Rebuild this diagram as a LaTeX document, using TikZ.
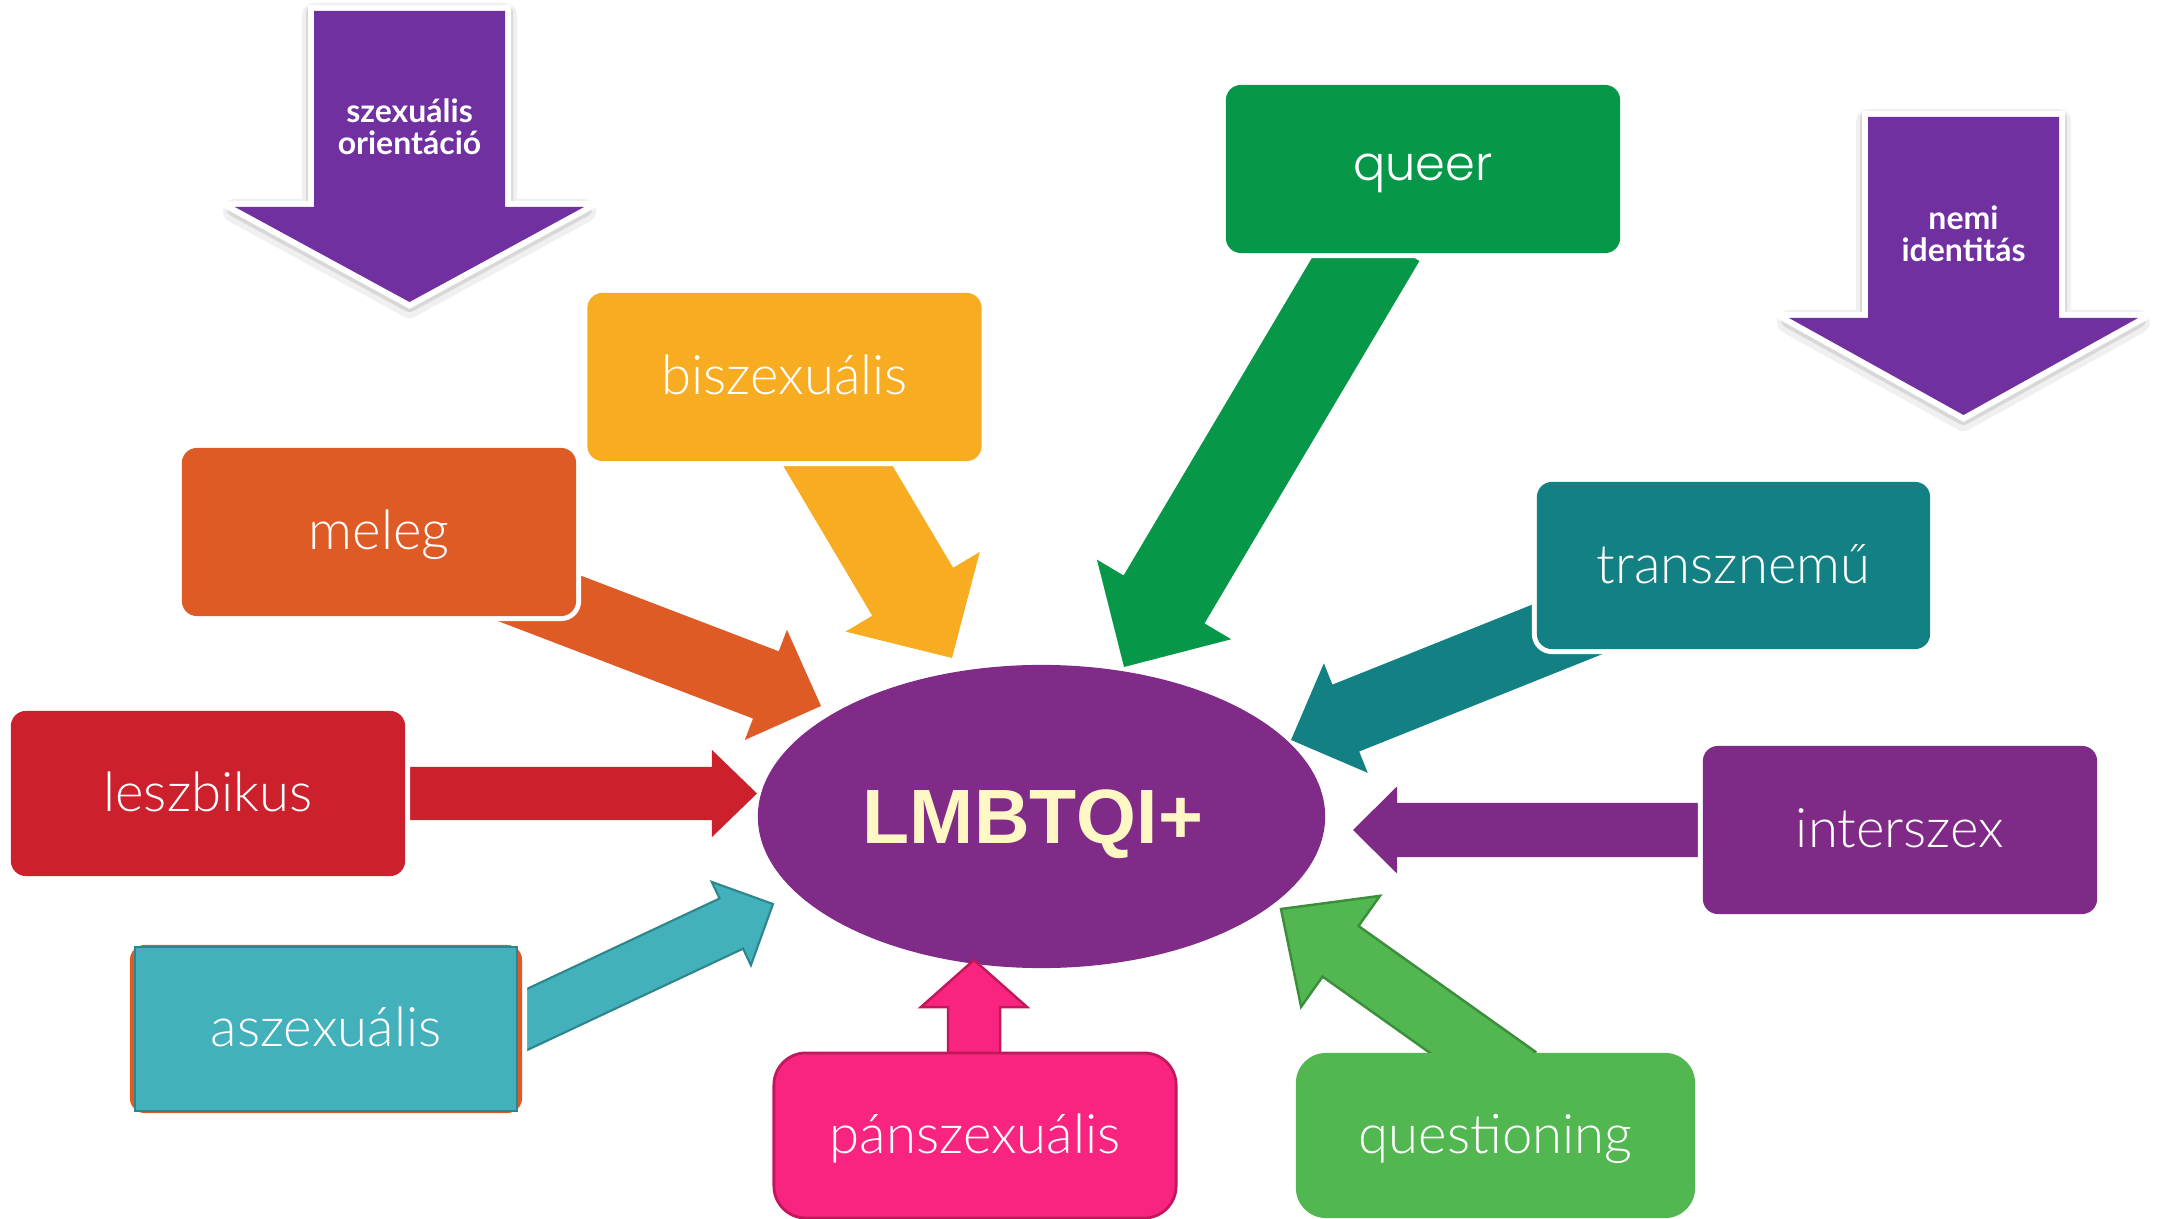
\documentclass[tikz,border=0pt]{standalone}
\usepackage{fontspec}
\usetikzlibrary{calc,shapes.geometric}
\IfFontExistsTF{Lato Light}{\newfontfamily\boxfont{Lato Light}}{\newfontfamily\boxfont{Lato}}
\IfFontExistsTF{Poppins Light}{\newfontfamily\queerfont{Poppins Light}}{\newfontfamily\queerfont{Poppins}}
\newfontfamily\headfont{Lato}
\newfontfamily\corefont{Liberation Sans}
\definecolor{hpurple}{HTML}{7030A0}
\definecolor{ccore}{HTML}{802B87}
\definecolor{ccoretext}{HTML}{FFF8C5}
\definecolor{cyellow}{HTML}{F7AC22}
\definecolor{corange}{HTML}{DE5B26}
\definecolor{cred}{HTML}{CC202C}
\definecolor{cqueer}{HTML}{069749}
\definecolor{cteal}{HTML}{138184}
\definecolor{cinter}{HTML}{7F2A86}
\definecolor{casz}{HTML}{43B1BB}
\definecolor{caszline}{HTML}{2E868C}
\definecolor{cpink}{HTML}{F9247F}
\definecolor{cpinkline}{HTML}{C2185B}
\definecolor{cquest}{HTML}{52B751}
\definecolor{cquestline}{HTML}{3B8F3B}
\newcommand\blockarrow[6]{%
  \coordinate (hb) at ($(#3)!#6!(#2)$);
  \path[#1] ($(#2)!#4!90:(#3)$) -- ($(hb)!#4!90:(#3)$) -- ($(hb)!#5!90:(#3)$) -- (#3)
    -- ($(hb)!#5!-90:(#3)$) -- ($(hb)!#4!-90:(#3)$) -- ($(#2)!#4!-90:(#3)$) -- cycle;
}
\begin{document}
\begin{tikzpicture}[x=0.01cm, y=-0.01cm,
  box/.style={rectangle, rounded corners=0.15cm, inner sep=0pt, text=white,
    font=\boxfont\fontsize{15.5}{18}\selectfont, text height=10pt, text depth=0pt,
    minimum width=3.94cm, minimum height=1.68cm},
  wbox/.style={box, preaction={draw=white, line width=0.1cm}},
  headtxt/.style={text=white, align=center, inner sep=0pt,
    font=\headfont\bfseries\fontsize{9.1}{9.1}\selectfont},
  hshadowA/.style={draw=black, opacity=0.06, line width=0.24cm, line join=round, yshift=-0.04cm},
  hshadowB/.style={draw=black, opacity=0.10, line width=0.16cm, line join=round, yshift=-0.02cm},
  hwhite/.style={draw=white, line width=0.12cm, line join=miter},
  hfill/.style={fill=hpurple},
  core/.style={ellipse, fill=ccore, minimum width=5.67cm, minimum height=3.03cm, inner sep=0pt},
  coretxt/.style={inner sep=0pt, text=ccoretext, font=\corefont\bfseries\fontsize{21.9}{26}\selectfont, text depth=0pt}
]
\useasboundingbox (0,0) rectangle (2160,1219);

% heading arrows
\foreach \sty in {hshadowA,hshadowB,hwhite,hfill}{
  \path[\sty] (314,11) -- (505,11) -- (505,207) -- (584,207) -- (409.5,302) -- (235,207) -- (314,207) -- cycle;
  \path[\sty] (1868,117) -- (2059,117) -- (2059,318) -- (2138,318) -- (1963.5,415) -- (1789,318) -- (1868,318) -- cycle;
}
\node[headtxt] (orient) at (409.5,127) {szexuális\\orientáció};
\node[headtxt] (ident) at (1963.5,234) {nemi\\identitás};

% centre
\node[core] (core) at (1041.5,816.5) {};
\node[coretxt] (coretext) at (1033,816.5) {LMBTQI+};

% arrow end points
\coordinate (bisz-t) at (819,434);   \coordinate (bisz-h) at (952,658);
\coordinate (mel-t) at (503.5,584.6); \coordinate (mel-h) at (821,706);
\coordinate (lesz-t) at (380,793.5); \coordinate (lesz-h) at (757,793.5);
\coordinate (asz-t) at (483.4,1040); \coordinate (asz-h) at (773,904);
\coordinate (pan-t) at (974,1090);   \coordinate (pan-h) at (974,960);
\coordinate (que-t) at (1517.4,1077); \coordinate (que-h) at (1281,909);
\coordinate (int-t) at (1740,830);   \coordinate (int-h) at (1353,830);
\coordinate (tra-t) at (1625.4,606.1); \coordinate (tra-h) at (1291,740);
\coordinate (qr-t) at (1379,237);    \coordinate (qr-h) at (1124,667);

\blockarrow{fill=cyellow}{bisz-t}{bisz-h}{0.47cm}{0.78cm}{0.77cm}
\blockarrow{fill=corange}{mel-t}{mel-h}{0.36cm}{0.59cm}{0.59cm}
\blockarrow{fill=cred}{lesz-t}{lesz-h}{0.265cm}{0.435cm}{0.45cm}
\blockarrow{fill=casz, draw=caszline, line width=0.6pt}{asz-t}{asz-h}{0.277cm}{0.46cm}{0.46cm}
\blockarrow{fill=cpink, draw=cpinkline, line width=0.7pt}{pan-t}{pan-h}{0.26cm}{0.53cm}{0.47cm}
\blockarrow{fill=cquest, draw=cquestline, line width=0.7pt}{que-t}{que-h}{0.31cm}{0.68cm}{0.73cm}
\blockarrow{fill=cinter}{int-t}{int-h}{0.27cm}{0.435cm}{0.44cm}
\blockarrow{fill=cteal}{tra-t}{tra-h}{0.36cm}{0.59cm}{0.59cm}
\blockarrow{fill=cqueer}{qr-t}{qr-h}{0.47cm}{0.78cm}{0.785cm}

% boxes
\node[wbox, fill=cqueer, font=\queerfont\fontsize{13.6}{17}\selectfont, text height=7.5pt, text depth=0.8pt] (queer) at (1423,169) {queer};
\node[wbox, fill=cyellow] (bisz) at (784.5,377) {biszexuális};
\node[wbox, fill=corange] (meleg) at (379,532) {meleg};
\node[wbox, fill=cred, minimum height=1.65cm] (lesz) at (208,793.5) {leszbikus};
\node[wbox, fill=corange, minimum width=3.92cm] (aszback) at (326,1029) {};
\node[box, fill=casz, draw=caszline, line width=0.7pt, rounded corners=0pt,
  minimum width=3.82cm, minimum height=1.64cm] (asz) at (326,1029) {aszexuális};
\node[box, fill=cpink, draw=cpinkline, line width=0.8pt, rounded corners=0.32cm,
  minimum width=4.02cm, minimum height=1.65cm] (pan) at (975,1135.5) {pánszexuális};
\node[box, fill=cquest, rounded corners=0.3cm,
  minimum width=3.99cm, minimum height=1.65cm] (quest) at (1495.5,1135.5) {questioning};
\node[wbox, fill=cinter] (inter) at (1900,830) {interszex};
\node[wbox, fill=cteal, minimum width=3.93cm, minimum height=1.67cm] (trans) at (1733.5,565.5) {transznemű};
\end{tikzpicture}
\end{document}
